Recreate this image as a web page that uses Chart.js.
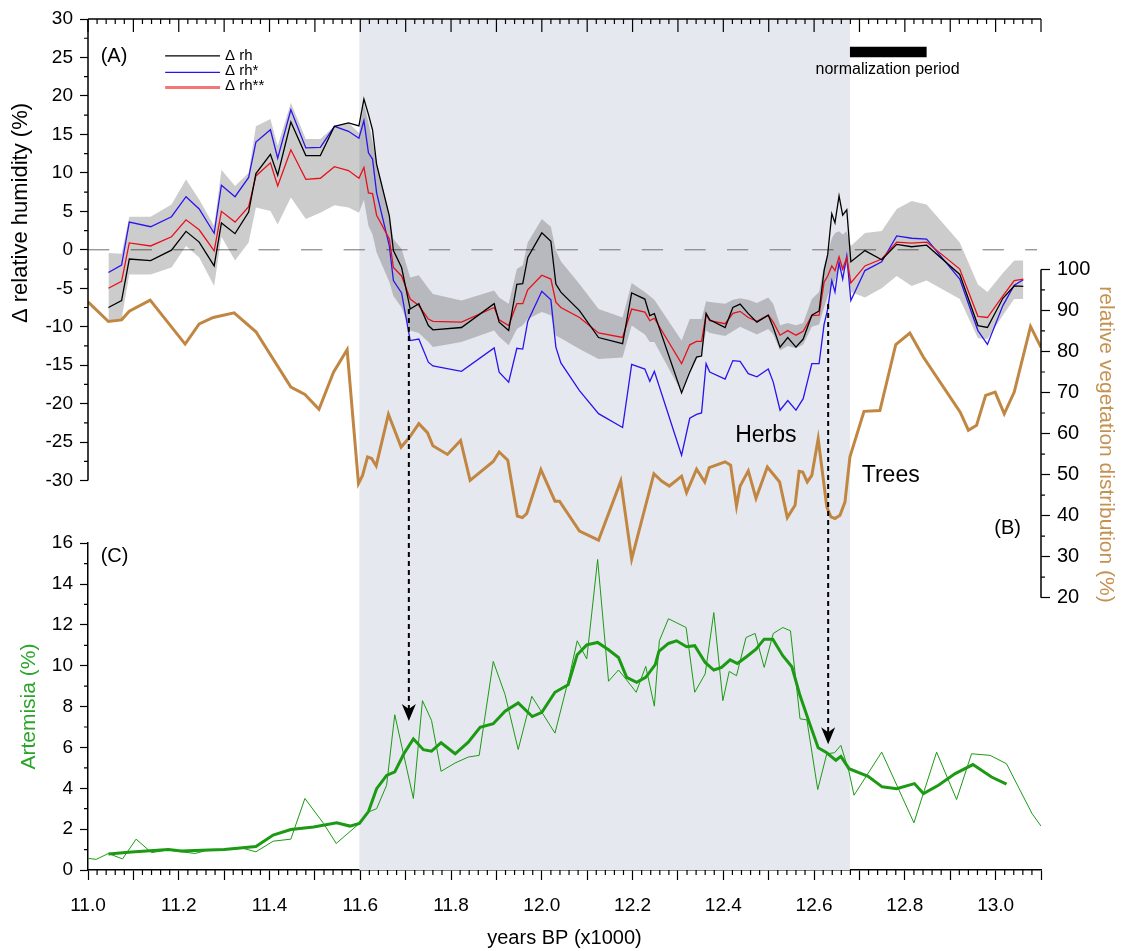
<!DOCTYPE html>
<html>
<head>
<meta charset="utf-8">
<script src="https://cdn.jsdelivr.net/npm/chart.js@4.4.1/dist/chart.umd.min.js"></script>
<style>
  html, body { margin: 0; padding: 0; background: #fff; }
</style>
</head>
<body>
<canvas id="humidityChart" width="1121" height="951"></canvas>
<script>
const FONT = "'Liberation Sans', Arial, Helvetica, sans-serif";
const BLUE = "#2a14ee";
const RED = "#e8101a";
const BROWN = "#c08642";
const BROWN_TEXT = "#c59150";
const GREEN = "#1c9a14";
const GREEN_TEXT = "#2aa52a";

// (A) relative humidity reconstructions, shared sample ages
const rhYears = [11.045, 11.074, 11.091, 11.138, 11.184, 11.216, 11.245, 11.278, 11.294, 11.324,
  11.354, 11.370, 11.402, 11.418, 11.447, 11.480, 11.512, 11.543, 11.574, 11.597,
  11.608, 11.618, 11.627, 11.636, 11.664, 11.673, 11.691, 11.710, 11.729, 11.750,
  11.760, 11.823, 11.895, 11.906, 11.927, 11.945, 11.958, 11.969, 12.000, 12.020,
  12.031, 12.042, 12.083, 12.125, 12.178, 12.198, 12.227, 12.238, 12.248, 12.308,
  12.326, 12.341, 12.352, 12.362, 12.370, 12.404, 12.421, 12.437, 12.455, 12.474,
  12.499, 12.510, 12.525, 12.542, 12.560, 12.576, 12.595, 12.611, 12.622, 12.630,
  12.639, 12.646, 12.655, 12.663, 12.672, 12.681, 12.712, 12.749, 12.782, 12.815,
  12.848, 12.921, 12.961, 12.982, 13.016, 13.041, 13.061];
const rhDelta = [-7.5, -6.6, -1.2, -1.4, -0.05, 2.4, 1.0, -2.1, 3.5, 2.1,
  4.9, 9.9, 12.4, 9.7, 16.6, 12.25, 12.25, 16.05, 16.5, 16.1,
  19.6, 17.6, 15.6, 11.1, 4.4, -0.1, -2.3, -7.7, -7.0, -9.85,
  -10.4, -10.1, -7.0, -9.4, -10.5, -4.5, -4.4, -1.0, 2.2, 1.1,
  -4.45, -5.5, -7.9, -11.4, -12.2, -5.6, -6.4, -8.55, -8.3, -18.6,
  -15.9, -13.95, -13.8, -8.25, -9.1, -10.1, -7.5, -7.05, -8.3, -9.4,
  -8.5, -10.1, -12.65, -11.4, -12.65, -11.6, -8.5, -7.95, -2.7, -0.6,
  4.7, 3.5, 7.0, 4.5, 5.2, -1.55, -0.1, -1.3, 0.7, 0.4,
  0.6, -3.2, -9.85, -10.1, -6.3, -4.7, -4.75];
const rhDeltaStar = [-2.95, -2.0, 3.6, 3.0, 4.3, 6.9, 5.3, 2.15, 8.4, 6.9,
  9.4, 14.0, 15.6, 11.9, 18.2, 13.25, 13.3, 16.05, 15.4, 14.5,
  16.8, 12.6, 11.8, 7.4, 0.5, -4.0, -5.6, -11.8, -11.6, -14.6,
  -15.1, -15.8, -12.75, -15.9, -17.2, -12.8, -12.9, -9.3, -5.4, -6.5,
  -12.65, -14.7, -18.3, -21.3, -23.1, -14.9, -15.5, -17.1, -15.8, -26.7,
  -21.9, -21.4, -21.2, -14.8, -15.9, -16.8, -14.4, -14.5, -16.1, -16.5,
  -15.5, -17.2, -20.85, -19.6, -20.85, -19.35, -14.8, -14.8, -9.7, -7.7,
  -4.0, -5.5, -1.65, -3.8, -0.8, -6.6, -2.7, -1.55, 1.8, 1.5,
  1.4, -3.8, -10.5, -12.3, -7.25, -4.6, -3.9];
const rhDeltaStar2 = [-5.0, -4.1, 0.9, 0.5, 1.7, 3.9, 2.6, -0.13, 5.0, 3.6,
  5.6, 9.6, 11.3, 8.3, 13.0, 9.15, 9.3, 10.8, 10.3, 9.3,
  10.7, 7.4, 7.3, 4.5, 1.4, -2.3, -3.4, -6.4, -7.25, -9.0,
  -9.3, -9.4, -7.5, -9.1, -9.85, -7.0, -7.0, -5.2, -3.3, -3.8,
  -6.8, -7.5, -8.8, -10.8, -11.4, -7.7, -8.1, -9.2, -8.9, -14.8,
  -12.35, -11.9, -11.9, -8.4, -9.2, -9.6, -8.25, -8.0, -8.8, -9.3,
  -8.5, -9.4, -11.1, -10.5, -11.1, -10.6, -8.55, -8.5, -4.2, -3.4,
  -2.1, -2.7, -0.9, -2.5, -1.0, -4.3, -2.1, -1.2, 1.0, 0.86,
  1.0, -2.5, -8.65, -8.8, -6.0, -4.0, -3.8];
const bandUpper = [-0.4, -0.5, 4.3, 4.3, 5.9, 9.15, 6.55, 3.1, 10.4, 8.3,
  10.0, 16.05, 17.0, 13.5, 19.1, 14.4, 14.4, 16.05, 16.5, 15.2,
  19.0, 16.5, 14.0, 11.5, 4.5, 1.4, 0.1, -3.6, -3.3, -5.0,
  -5.75, -6.6, -5.3, -6.2, -7.0, -2.5, -2.0, 0.95, 4.0, 3.0,
  -0.1, -1.5, -4.45, -7.7, -8.8, -4.3, -5.5, -6.0, -6.5, -11.8,
  -9.0, -9.0, -9.0, -6.7, -6.8, -7.0, -6.5, -6.3, -6.5, -6.9,
  -6.2, -7.0, -9.8, -9.5, -9.8, -9.5, -6.4, -5.5, -2.0, -0.5,
  1.5, 2.2, 2.4, 2.0, 2.4, 0.5, 2.2, 2.45, 5.3, 6.35,
  5.9, 0.95, -4.5, -5.5, -3.0, -1.4, -1.4];
const bandLower = [-9.2, -9.0, -3.2, -3.2, -2.3, 0.5, -1.0, -4.7, 1.7, -1.4,
  0.95, 5.5, 5.05, 3.3, 6.8, 4.0, 4.8, 5.8, 5.5, 4.8,
  6.5, 3.1, 2.0, -0.35, -4.2, -6.0, -7.5, -10.5, -10.8, -12.0,
  -12.65, -12.0, -10.5, -11.3, -12.4, -10.3, -9.8, -9.0, -8.1, -8.5,
  -11.15, -11.5, -12.9, -14.2, -14.0, -9.85, -11.0, -12.0, -12.0, -18.5,
  -15.5, -14.0, -13.5, -10.5, -10.8, -11.2, -10.6, -10.0, -10.5, -11.0,
  -10.3, -11.0, -13.1, -12.5, -12.8, -12.3, -10.0, -9.7, -7.5, -6.0,
  -4.7, -4.0, -2.5, -2.8, -2.1, -5.5, -6.2, -5.0, -3.4, -4.7,
  -4.0, -6.4, -11.5, -11.6, -8.5, -6.4, -6.4];

// (B) relative vegetation distribution
const vegYears = [11.000, 11.045, 11.074, 11.091, 11.137, 11.214, 11.245, 11.276, 11.322, 11.370,
  11.447, 11.478, 11.509, 11.541, 11.571, 11.596, 11.605, 11.616, 11.625, 11.635,
  11.662, 11.690, 11.708, 11.729, 11.748, 11.760, 11.792, 11.821, 11.842, 11.893,
  11.906, 11.925, 11.946, 11.957, 11.967, 11.998, 12.029, 12.039, 12.083, 12.125,
  12.174, 12.187, 12.198, 12.247, 12.264, 12.281, 12.308, 12.319, 12.341, 12.359,
  12.369, 12.404, 12.416, 12.429, 12.437, 12.455, 12.472, 12.497, 12.524, 12.541,
  12.558, 12.567, 12.575, 12.585, 12.595, 12.609, 12.628, 12.637, 12.646, 12.657,
  12.668, 12.679, 12.710, 12.745, 12.780, 12.811, 12.841, 12.922, 12.940, 12.958,
  12.978, 12.999, 13.019, 13.041, 13.077, 13.100];
const vegValues = [92.1, 87.3, 87.7, 89.8, 92.5, 81.8, 86.7, 88.3, 89.4, 84.8,
  71.3, 69.5, 65.9, 74.95, 80.4, 47.8, 49.8, 54.3, 53.9, 52.1,
  64.7, 56.7, 59.0, 62.4, 60.2, 57.0, 54.9, 58.3, 48.6, 53.2,
  55.5, 53.5, 39.9, 39.5, 40.5, 51.2, 43.5, 43.5, 36.2, 34.0,
  48.4, 38.1, 29.4, 50.2, 48.4, 47.2, 49.6, 45.6, 51.3, 48.2,
  51.7, 53.1, 52.3, 42.3, 47.2, 50.9, 44.2, 51.85, 48.2, 39.5,
  42.5, 50.8, 50.6, 48.2, 49.8, 58.7, 42.1, 39.7, 39.3, 40.1,
  43.3, 54.3, 65.4, 65.6, 81.7, 84.5, 78.6, 65.2, 60.8, 62.0,
  69.3, 70.1, 64.8, 70.1, 86.1, 81.0];

// (C) Artemisia, raw samples and smoothed curve
const artYears = [11.000, 11.018, 11.045, 11.076, 11.106, 11.140, 11.175, 11.206, 11.236, 11.265,
  11.342, 11.370, 11.408, 11.447, 11.478, 11.519, 11.547, 11.598, 11.618, 11.636,
  11.658, 11.676, 11.717, 11.737, 11.757, 11.778, 11.809, 11.838, 11.862, 11.893,
  11.919, 11.948, 11.978, 12.029, 12.062, 12.078, 12.099, 12.123, 12.147, 12.169,
  12.187, 12.208, 12.229, 12.248, 12.259, 12.279, 12.318, 12.337, 12.360, 12.379,
  12.399, 12.413, 12.429, 12.450, 12.470, 12.490, 12.510, 12.531, 12.548, 12.569,
  12.584, 12.608, 12.628, 12.645, 12.659, 12.677, 12.688, 12.749, 12.820, 12.870,
  12.914, 12.947, 12.988, 13.024, 13.080, 13.100];
const artRaw = [0.57, 0.52, 0.81, 0.54, 1.51, 0.85, 0.98, 0.89, 0.81, 0.98,
  1.06, 0.89, 1.41, 1.51, 3.5, 2.28, 1.3, 2.28, 2.84, 3.0,
  4.15, 7.6, 3.5, 8.29, 7.32, 4.83, 5.24, 5.53, 5.61, 10.21,
  8.59, 5.9, 8.5, 6.7, 9.6, 11.22, 10.33, 15.2, 9.24, 9.79,
  9.3, 8.7, 9.97, 8.02, 11.22, 12.3, 11.87, 8.7, 9.6, 12.6,
  8.29, 9.72, 9.51, 11.38, 11.58, 9.92, 11.58, 11.87, 11.71, 7.4,
  7.35, 3.94, 5.69, 5.74, 6.1, 4.8, 3.66, 5.77, 2.31, 5.77,
  3.45, 5.69, 5.61, 5.2, 2.77, 2.15];
const smoothYears = [11.045, 11.096, 11.177, 11.206, 11.250, 11.300, 11.370, 11.408, 11.447, 11.497,
  11.548, 11.577, 11.598, 11.618, 11.636, 11.658, 11.676, 11.696, 11.717, 11.739,
  11.757, 11.778, 11.809, 11.838, 11.864, 11.893, 11.919, 11.948, 11.979, 12.000,
  12.029, 12.058, 12.078, 12.099, 12.123, 12.147, 12.169, 12.187, 12.209, 12.229,
  12.250, 12.258, 12.279, 12.297, 12.319, 12.337, 12.360, 12.379, 12.396, 12.415,
  12.431, 12.451, 12.472, 12.490, 12.509, 12.531, 12.551, 12.569, 12.589, 12.609,
  12.628, 12.648, 12.659, 12.677, 12.719, 12.750, 12.782, 12.821, 12.841, 12.874,
  12.911, 12.950, 12.991, 13.024];
const artSmooth = [0.78, 0.88, 1.0, 0.93, 0.97, 1.0, 1.15, 1.71, 1.98, 2.11,
  2.31, 2.15, 2.28, 2.86, 3.98, 4.63, 4.8, 5.69, 6.42, 5.89,
  5.82, 6.23, 5.69, 6.26, 6.99, 7.16, 7.77, 8.18, 7.51, 7.72,
  8.7, 9.07, 10.54, 11.02, 11.14, 10.78, 10.4, 9.43, 9.19, 9.43,
  10.05, 10.7, 11.09, 11.22, 10.93, 10.98, 10.16, 9.79, 9.92, 10.29,
  10.11, 10.44, 10.81, 11.3, 11.3, 10.49, 9.95, 8.54, 7.24, 5.98,
  5.74, 5.37, 5.56, 4.96, 4.59, 4.07, 3.98, 4.23, 3.74, 4.15,
  4.72, 5.16, 4.55, 4.2];

// ticks
const xTicks = [11.0, 11.1, 11.2, 11.3, 11.4, 11.5, 11.6, 11.7, 11.8, 11.9, 12.0,
  12.1, 12.2, 12.3, 12.4, 12.5, 12.6, 12.7, 12.8, 12.9, 13.0, 13.1];
const xTickLabels = ["11.0", "11.2", "11.4", "11.6", "11.8", "12.0", "12.2", "12.4", "12.6", "12.8", "13.0"];
const rhTicks = [-30, -25, -20, -15, -10, -5, 0, 5, 10, 15, 20, 25, 30];
const vegTicks = [20, 30, 40, 50, 60, 70, 80, 90, 100];
const artTicks = [0, 2, 4, 6, 8, 10, 12, 14, 16];

// intervals / events
const shadedPeriod = [11.598, 12.679];
const normPeriod = [12.679, 12.848];
const normLevel = 25.7;
const transitionArrows = [
  { x: 11.707, fromRh: -7.7, toArt: 7.3 },
  { x: 12.631, fromRh: -7.05, toArt: 6.15 },
];

const pts = (xs, ys) => xs.map((x, i) => ({ x: x, y: ys[i] }));
const fixTicks = (list) => (scale) => { scale.ticks = list.map((v) => ({ value: v })); };

function label(ctx, str, x, y, size, color, align) {
  ctx.font = size + "px " + FONT;
  ctx.fillStyle = color || "#000";
  ctx.textAlign = align || "left";
  ctx.textBaseline = "middle";
  ctx.fillText(str, x, y);
}

const decorations = {
  id: "decorations",
  beforeDatasetsDraw(chart) {
    const { ctx, chartArea: a, scales: { x, yA } } = chart;
    ctx.save();
    const x0 = x.getPixelForValue(shadedPeriod[0]);
    const x1 = x.getPixelForValue(shadedPeriod[1]);
    ctx.fillStyle = "#e5e8ee";
    ctx.fillRect(x0, a.top, x1 - x0, a.bottom - a.top);
    // zero line of panel A
    const y0 = yA.getPixelForValue(0);
    ctx.strokeStyle = "#707070";
    ctx.lineWidth = 1;
    ctx.setLineDash([21.3, 21.3]);
    ctx.beginPath();
    ctx.moveTo(a.left, y0);
    ctx.lineTo(a.right - 4, y0);
    ctx.stroke();
    ctx.restore();
  },
  afterDatasetsDraw(chart) {
    const { ctx, scales: { x, yA, yC } } = chart;
    transitionArrows.forEach((arr) => {
      const px = x.getPixelForValue(arr.x);
      const yTop = yA.getPixelForValue(arr.fromRh);
      const yTip = yC.getPixelForValue(arr.toArt);
      ctx.save();
      ctx.strokeStyle = "#000";
      ctx.lineWidth = 2;
      ctx.setLineDash([5, 4]);
      ctx.beginPath();
      ctx.moveTo(px, yTop);
      ctx.lineTo(px, yTip - 12);
      ctx.stroke();
      ctx.setLineDash([]);
      ctx.fillStyle = "#000";
      ctx.beginPath();
      ctx.moveTo(px, yTip);
      ctx.lineTo(px - 7, yTip - 17);
      ctx.lineTo(px, yTip - 12);
      ctx.lineTo(px + 7, yTip - 17);
      ctx.closePath();
      ctx.fill();
      ctx.restore();
    });
  },
  afterDraw(chart) {
    const { ctx, chartArea: a, scales: { x, yA, yB, yC } } = chart;
    ctx.save();
    ctx.strokeStyle = "#000";
    ctx.lineWidth = 1.5;
    // axis lines Chart.js does not draw
    ctx.beginPath();
    ctx.moveTo(a.left, yA.getPixelForValue(30));
    ctx.lineTo(a.left, yA.getPixelForValue(-30));
    ctx.moveTo(a.right, yB.getPixelForValue(100));
    ctx.lineTo(a.right, yB.getPixelForValue(20));
    ctx.moveTo(a.left, a.top);
    ctx.lineTo(a.right, a.top);
    ctx.stroke();

    ctx.lineWidth = 1.2;
    ctx.beginPath();
    // x minor ticks (bottom, outward) and top frame ticks (inward)
    for (let i = 0; i <= 105; i++) {
      const px = x.getPixelForValue(11 + i * 0.02);
      if (i % 5 !== 0) {
        ctx.moveTo(px, a.bottom);
        ctx.lineTo(px, a.bottom + 5);
      }
      ctx.moveTo(px, a.top);
      ctx.lineTo(px, a.top + (i % 5 === 0 ? 13 : 5));
    }
    // left minor ticks
    for (let v = -27.5; v < 30; v += 5) {
      const py = yA.getPixelForValue(v);
      ctx.moveTo(a.left, py);
      ctx.lineTo(a.left - 4, py);
    }
    for (let v = 1; v < 16; v += 2) {
      const py = yC.getPixelForValue(v);
      ctx.moveTo(a.left, py);
      ctx.lineTo(a.left - 4, py);
    }
    for (let v = 25; v < 100; v += 10) {
      const py = yB.getPixelForValue(v);
      ctx.moveTo(a.right, py);
      ctx.lineTo(a.right + 4, py);
    }
    ctx.stroke();

    // legend for panel A
    const lx0 = x.getPixelForValue(11.170);
    const lx1 = x.getPixelForValue(11.291);
    const tx = x.getPixelForValue(11.302);
    const legend = [
      { text: "\u0394 rh", color: "#000", width: 1.3, line: 25.2, y: 25.2 },
      { text: "\u0394 rh*", color: BLUE, width: 1.3, line: 23.05, y: 23.3 },
      { text: "\u0394 rh**", color: "#f47777", width: 3, line: 21.1, y: 21.3 },
    ];
    legend.forEach((item) => {
      ctx.strokeStyle = item.color;
      ctx.lineWidth = item.width;
      ctx.beginPath();
      const ly = yA.getPixelForValue(item.line);
      ctx.moveTo(lx0, ly);
      ctx.lineTo(lx1, ly);
      ctx.stroke();
      label(ctx, item.text, tx, yA.getPixelForValue(item.y), 15);
    });

    label(ctx, "(A)", x.getPixelForValue(11.028), yA.getPixelForValue(25.1), 20);
    label(ctx, "(C)", x.getPixelForValue(11.028), yC.getPixelForValue(15.37), 20);
    label(ctx, "(B)", x.getPixelForValue(12.997), yB.getPixelForValue(36.85), 20);
    label(ctx, "Herbs", x.getPixelForValue(12.426), yB.getPixelForValue(59.6), 23);
    label(ctx, "Trees", x.getPixelForValue(12.705), yB.getPixelForValue(49.8), 23);
    label(ctx, "normalization period", x.getPixelForValue(12.762), yA.getPixelForValue(23.4), 16, "#000", "center");

    // left axis title of panel A
    ctx.translate(21, 213);
    ctx.rotate(-Math.PI / 2);
    label(ctx, "\u0394 relative humidity (%)", 0, 0, 22, "#000", "center");
    ctx.restore();
  },
};

const tickFont = { family: FONT, size: 19 };

new Chart(document.getElementById("humidityChart"), {
  type: "line",
  data: {
    datasets: [
      { label: "\u0394 rh", data: pts(rhYears, rhDelta), yAxisID: "yA", borderColor: "#000", borderWidth: 1.3, order: 1 },
      { label: "\u0394 rh**", data: pts(rhYears, rhDeltaStar2), yAxisID: "yA", borderColor: RED, borderWidth: 1.3, order: 2 },
      { label: "\u0394 rh*", data: pts(rhYears, rhDeltaStar), yAxisID: "yA", borderColor: BLUE, borderWidth: 1.3, order: 3 },
      { label: "upper", data: pts(rhYears, bandUpper), yAxisID: "yA", borderColor: "transparent", borderWidth: 0,
        backgroundColor: "rgba(0,0,0,0.2)", fill: "+1", order: 6 },
      { label: "lower", data: pts(rhYears, bandLower), yAxisID: "yA", borderColor: "transparent", borderWidth: 0,
        fill: false, order: 7 },
      { label: "vegetation", data: pts(vegYears, vegValues), yAxisID: "yB", borderColor: BROWN, borderWidth: 3, order: 4 },
      { label: "Artemisia smoothed", data: pts(smoothYears, artSmooth), yAxisID: "yC", borderColor: GREEN, borderWidth: 3, order: 2 },
      { label: "Artemisia", data: pts(artYears, artRaw), yAxisID: "yC", borderColor: GREEN, borderWidth: 1, order: 3 },
      { label: "normalization period", data: pts(normPeriod, [normLevel, normLevel]), yAxisID: "yA",
        borderColor: "#000", borderWidth: 10.5, borderCapStyle: "butt", order: 1 },
    ],
  },
  options: {
    responsive: false,
    animation: false,
    layout: { padding: { top: 16, left: 0, right: 0, bottom: 0 } },
    elements: { point: { radius: 0 }, line: { tension: 0 } },
    plugins: {
      legend: { display: false },
      tooltip: { enabled: false },
    },
    scales: {
      x: {
        type: "linear",
        min: 11.0,
        max: 13.1,
        afterBuildTicks: fixTicks(xTicks),
        afterFit: (s) => { s.height = 81; },
        grid: { drawOnChartArea: false, tickLength: 10, tickColor: "#000", tickWidth: 1.2 },
        border: { color: "#000", width: 1.5 },
        ticks: {
          autoSkip: false, maxRotation: 0, padding: 14, color: "#000", font: tickFont,
          callback: (v) => { const t = Number(v).toFixed(1); return xTickLabels.includes(t) ? t : ""; },
        },
        title: { display: true, text: "years BP (x1000)", color: "#000", font: { family: FONT, size: 20 }, padding: { top: 0, bottom: 1 } },
      },
      yA: {
        type: "linear",
        position: "left",
        stack: "left",
        stackWeight: 526,
        weight: 2,
        min: -38.13,
        max: 30,
        afterBuildTicks: fixTicks(rhTicks),
        afterFit: (s) => { s.width = 88; },
        grid: { drawOnChartArea: false, tickLength: 8, tickColor: "#000", tickWidth: 1.2 },
        border: { display: false },
        ticks: { autoSkip: false, padding: 7, color: "#000", font: tickFont },
      },
      yC: {
        type: "linear",
        position: "left",
        stack: "left",
        stackWeight: 328,
        weight: 1,
        min: 0,
        max: 16,
        afterBuildTicks: fixTicks(artTicks),
        afterFit: (s) => { s.width = 88; },
        grid: { drawOnChartArea: false, tickLength: 8, tickColor: "#000", tickWidth: 1.2 },
        border: { color: "#000", width: 1.5 },
        ticks: { autoSkip: false, padding: 7, color: "#000", font: tickFont },
        title: { display: true, text: "Artemisia (%)", color: GREEN_TEXT, font: { family: FONT, size: 21 }, padding: { top: 17, bottom: 0 } },
      },
      yB: {
        type: "linear",
        position: "right",
        min: -46.38,
        max: 161.03,
        afterBuildTicks: fixTicks(vegTicks),
        afterFit: (s) => { s.width = 80; },
        grid: { drawOnChartArea: false, tickLength: 9, tickColor: "#000", tickWidth: 1.2 },
        border: { display: false },
        ticks: { autoSkip: false, padding: 7, color: "#000", font: { family: FONT, size: 20 } },
        title: { display: true, text: "relative vegetation distribution (%)", color: BROWN_TEXT, font: { family: FONT, size: 21 }, padding: { top: 3, bottom: 0 } },
      },
    },
  },
  plugins: [decorations],
});
</script>
</body>
</html>
